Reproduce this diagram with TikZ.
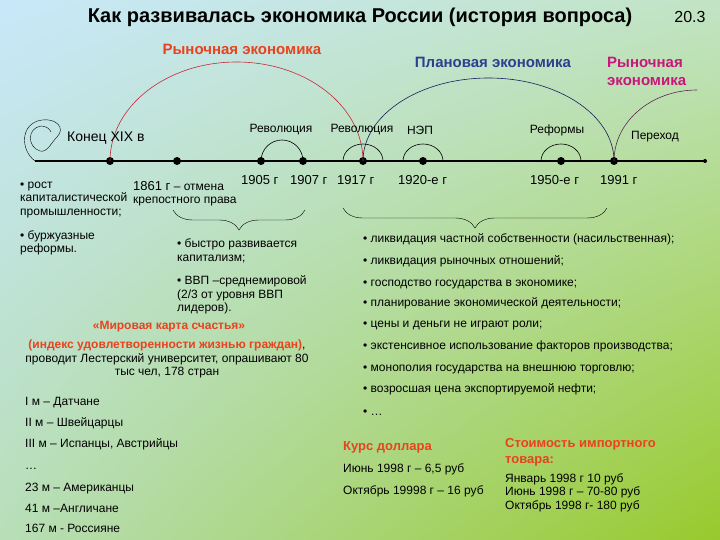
\documentclass[tikz,border=0pt]{standalone}
\usepackage{fontspec}
\setmainfont{Liberation Sans}
\usetikzlibrary{decorations.pathreplacing,shadings}

\definecolor{bgtl}{RGB}{200,232,250}
\definecolor{bgtr}{RGB}{194,228,196}
\definecolor{bgbl}{RGB}{184,222,184}
\definecolor{bgbr}{RGB}{152,202,44}
\definecolor{rynred}{RGB}{232,66,30}
\definecolor{planblue}{RGB}{44,64,140}
\definecolor{rynpink}{RGB}{200,22,122}
\definecolor{arcred}{RGB}{196,40,56}
\definecolor{arcblue}{RGB}{24,30,90}
\definecolor{arcpurple}{RGB}{90,40,80}

\begin{document}
\begin{tikzpicture}[x=1pt, y=1pt,
	dot/.style={circle, fill=black, inner sep=0pt, minimum size=8pt},
	lbl/.style={inner sep=0pt, font=\fontsize{12}{14}\selectfont},
	yr/.style={inner sep=0pt, anchor=base west, font=\fontsize{13}{15}\selectfont},
	txt/.style={inner sep=0pt, anchor=west, align=left, font=\fontsize{12}{13.5}\selectfont},
	ln/.style={txt, anchor=base west},
	head/.style={inner sep=0pt, font=\bfseries\fontsize{15}{18}\selectfont},
	redhead/.style={inner sep=0pt, anchor=base west, align=left, text=rynred, font=\bfseries\fontsize{13}{16}\selectfont},
	brc/.style={decorate, decoration={brace, mirror, amplitude=20pt}, thin}]
			%%%%% START %%%%%
			
			\shade[upper left=bgtl, upper right=bgtr, lower left=bgbl, lower right=bgbr] (0, 0) rectangle (720, -540);
			\useasboundingbox (0, 0) rectangle (720, -540);
			
			\node[inner sep=0pt, font=\bfseries\fontsize{20}{22}\selectfont] (title) at (360, -17) {Как развивалась экономика России (история вопроса)};
			\node[inner sep=0pt, font=\fontsize{16}{18}\selectfont] (num) at (690, -17) {20.3};
			
			% timeline
			\draw[line width=2.8pt] (35, -161) -- (705, -161);
			\node[circle, fill=black, inner sep=0pt, minimum size=4pt] (tend) at (705, -161) {};
			\draw (35, -161) .. controls (20, -150) and (20, -123) .. (42, -120) .. controls (56, -118) and (66, -128) .. (57, -137)
				.. controls (51, -143) and (47, -153) .. (40, -151) .. controls (27, -147) and (27, -128) .. (41, -126) .. controls (46, -126) and (50, -129) .. (51, -132);
			
			\node[dot] (k19) at (110, -161) {};
			\node[dot] (d1861) at (177, -161) {};
			\node[dot] (d1905) at (261, -161) {};
			\node[dot] (d1907) at (303, -161) {};
			\node[dot] (d1917) at (363, -161) {};
			\node[dot] (d1920) at (423, -161) {};
			\node[dot] (d1950) at (561, -161) {};
			\node[dot] (d1991) at (614, -161) {};
			
			% big arcs
			\draw[arcred, line width=0.6pt] (k19.center) arc (180:0:126.5pt and 99pt);
			\draw[arcblue, line width=0.6pt] (d1917.center) arc (180:0:125.5pt and 83pt);
			\draw[arcpurple, line width=0.6pt] (d1991.center) arc (180:90:83pt and 71pt);
			
			% small arcs
			\draw[line width=0.6pt] (d1905.center) arc (180:0:21pt);
			\draw[line width=0.6pt] ([xshift=-20pt]d1917.center) arc (180:0:20pt and 17pt);
			\draw[line width=0.6pt] ([xshift=-20pt]d1920.center) arc (180:0:20pt and 17pt);
			\draw[line width=0.6pt] ([xshift=-20pt]d1950.center) arc (180:0:20pt and 17pt);
			
			\node[head, text=rynred] (rynA) at (242, -49) {Рыночная экономика};
			\node[head, text=planblue] (plan) at (493, -62) {Плановая экономика};
			\node[head, text=rynpink, anchor=west, align=left] (rynB) at (607, -71) {Рыночная\\экономика};
			
			\node[lbl, anchor=west, font=\fontsize{14}{16}\selectfont] (konec) at (67, -138) {Конец XIX в};
			\node[lbl] (rev1) at (281, -130) {Революция};
			\node[lbl] (rev2) at (362, -130) {Революция};
			\node[lbl] (nep) at (420, -130) {НЭП};
			\node[lbl] (reform) at (557, -130) {Реформы};
			\node[lbl] (perehod) at (655, -137) {Переход};
			
			\node[yr] (y1905) at (241, -185) {1905 г};
			\node[yr] (y1907) at (290, -185) {1907 г};
			\node[yr] (y1917) at (337, -185) {1917 г};
			\node[yr] (y1920) at (398, -185) {1920-е г};
			\node[yr] (y1950) at (530, -185) {1950-е г};
			\node[yr] (y1991) at (600, -185) {1991 г};
			
			\node[txt] (rost) at (20, -200) {• рост\\капиталистической\\промышленности;};
			\node[txt, anchor=north west] (otm) at (133, -181) {{\fontsize{13}{15}\selectfont 1861 г} – отмена\\крепостного права};
			\node[txt] (burzh) at (20, -243) {• буржуазные\\реформы.};
			
			% braces
			\coordinate (b1l) at (173, -210);
			\coordinate (b1r) at (305, -210);
			\coordinate (b2l) at (343, -208);
			\coordinate (b2r) at (607, -208);
			\draw[brc] (b1l) -- (b1r);
			\draw[brc] (b2l) -- (b2r);
			
			\node[txt] (kap) at (177, -251) {• быстро развивается\\капитализм;};
			\node[txt] (vvp) at (177, -295) {• ВВП –среднемировой\\(2/3 от уровня ВВП\\лидеров).};
			
			\node[redhead, anchor=center, font=\bfseries\fontsize{12}{16}\selectfont] (karta) at (169, -327) {«Мировая карта счастья»};
			\node[txt, anchor=north, align=center] (indeks) at (167, -340) {\textcolor{rynred}{\bfseries(индекс удовлетворенности жизнью граждан)},\\проводит Лестерский университет, опрашивают 80\\тыс чел, 178 стран};
			
			\node[ln] (m1) at (25, -405) {I м – Датчане};
			\node[ln] (m2) at (25, -426) {II м – Швейцарцы};
			\node[ln] (m3) at (25, -447) {III м – Испанцы, Австрийцы};
			\node[ln] (m4) at (25, -469) {…};
			\node[ln] (m23) at (25, -491) {23 м – Американцы};
			\node[ln] (m41) at (25, -512) {41 м –Англичане};
			\node[ln] (m167) at (25, -532) {167 м - Россияне};
			
			\node[ln] (p1) at (363, -243) {• ликвидация частной собственности (насильственная);};
			\node[ln] (p2) at (363, -264) {• ликвидация рыночных отношений;};
			\node[ln] (p3) at (363, -286) {• господство государства в экономике;};
			\node[ln] (p4) at (363, -306) {• планирование экономической деятельности;};
			\node[ln] (p5) at (363, -327) {• цены и деньги не играют роли;};
			\node[ln] (p6) at (363, -349) {• экстенсивное использование факторов производства;};
			\node[ln] (p7) at (363, -371) {• монополия государства на внешнюю торговлю;};
			\node[ln] (p8) at (363, -392) {• возросшая цена экспортируемой нефти;};
			\node[ln] (p9) at (363, -415) {• …};
			
			\node[redhead] (kurs) at (343, -450) {Курс доллара};
			\node[ln] (k1) at (343, -472) {Июнь 1998 г – 6,5 руб};
			\node[ln] (k2) at (343, -494) {Октябрь 19998 г – 16 руб};
			
			\node[redhead, anchor=north west] (stoim) at (505, -438) {Стоимость импортного\\товара:};
			\node[txt, anchor=north west] (s1) at (505, -473) {Январь 1998 г 10 руб\\Июнь 1998 г – 70-80 руб\\Октябрь 1998 г- 180 руб};
			
			%%%%% END %%%%%
\end{tikzpicture}
\end{document}
